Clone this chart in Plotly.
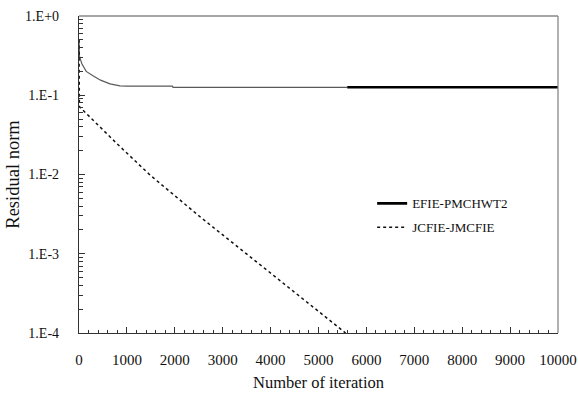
import plotly.graph_objects as go

# Residual history of the iterative solver (log scale)
efie_iter = [0, 10, 60, 150, 300, 450, 647, 856, 1000, 1950, 1962, 5600]
efie_res = [0.50, 0.31, 0.25, 0.20, 0.175, 0.155, 0.139, 0.131, 0.130, 0.130, 0.126, 0.126]

efie_tail_iter = [5600, 10000]
efie_tail_res = [0.126, 0.126]

jcfie_iter = [0, 8, 786, 1482, 2526, 3430, 4961, 5566]
jcfie_res = [0.50, 0.0718, 0.0247, 0.00986, 0.00293, 0.00108, 0.000195, 0.000100]

y_tickvals = [1e-4, 1e-3, 1e-2, 1e-1, 1e0]
y_ticktext = ["1.E-4", "1.E-3", "1.E-2", "1.E-1", "1.E+0"]

font_family = "Liberation Serif"

fig = go.Figure()
fig.add_trace(go.Scatter(
    x=efie_iter, y=efie_res, mode="lines",
    line=dict(color="#5a5a5a", width=1.2),
    showlegend=False, hoverinfo="skip", legendgroup="efie",
))
fig.add_trace(go.Scatter(
    x=efie_tail_iter, y=efie_tail_res, mode="lines",
    line=dict(color="#000000", width=2.6),
    name="EFIE-PMCHWT2", legendgroup="efie",
))
fig.add_trace(go.Scatter(
    x=jcfie_iter, y=jcfie_res, mode="lines",
    line=dict(color="#111111", width=1.5, dash="3px,3px"),
    name="JCFIE-JMCFIE", legendgroup="jcfie",
))

fig.update_layout(
    width=578, height=394,
    margin=dict(l=79, r=20, t=16, b=61),
    paper_bgcolor="white", plot_bgcolor="white",
    font=dict(family=font_family, size=14, color="#111111"),
    legend=dict(
        x=0.612, y=0.371, xanchor="left", yanchor="middle",
        bgcolor="rgba(0,0,0,0)", borderwidth=0,
        font=dict(family=font_family, size=13, color="#111111"),
        tracegroupgap=4,
    ),
)

fig.update_xaxes(
    range=[0, 10000], dtick=1000, tick0=0, tickformat="d",
    showgrid=False, zeroline=False, automargin=False,
    showline=True, linecolor="#333333", linewidth=1.3, mirror=False,
    ticks="inside", ticklen=6, tickwidth=1, tickcolor="#333333",
    minor=dict(dtick=200, ticks="inside", ticklen=3, tickcolor="#333333", showgrid=False),
    ticklabelstandoff=13,
    tickfont=dict(family=font_family, size=15),
    title=dict(text="Number of iteration", standoff=9,
               font=dict(family=font_family, size=16.5)),
)
fig.update_yaxes(
    type="log", range=[-4, 0],
    tickvals=y_tickvals, ticktext=y_ticktext,
    showgrid=False, zeroline=False, automargin=False,
    showline=True, linecolor="#333333", linewidth=1.3, mirror=False,
    ticks="inside", ticklen=6, tickwidth=1, tickcolor="#333333",
    minor=dict(dtick="D1", ticks="inside", ticklen=4, tickcolor="#333333", showgrid=False),
    ticklabelstandoff=16,
    tickfont=dict(family=font_family, size=14),
    title=dict(text="Residual norm", standoff=0,
               font=dict(family=font_family, size=18.5)),
)

# Grey frame on the top and right edges of the plotting area
fig.add_shape(type="line", xref="paper", yref="paper", x0=0, x1=1, y0=1, y1=1,
              line=dict(color="#888888", width=1.3))
fig.add_shape(type="line", xref="paper", yref="paper", x0=1, x1=1, y0=0, y1=1,
              line=dict(color="#888888", width=1.3))

fig.write_html("out.html")
